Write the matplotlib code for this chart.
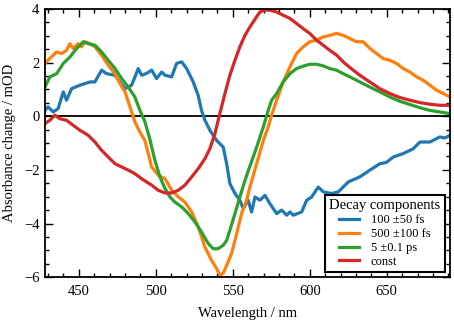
import numpy as np
import matplotlib
matplotlib.use("Agg")
import matplotlib.pyplot as plt
from matplotlib.ticker import MultipleLocator

plt.rcParams['font.family'] = ['Liberation Serif', 'DejaVu Serif']

# 100 +- 50 fs component
wl_blue = [428, 430, 433.4, 436.6, 439.9, 442, 445.3, 450.7, 457.2, 460.4, 464.8, 468, 473.5,
           476.7, 480, 484.3, 488.6, 490.8, 494, 497.3, 500.5, 503.8, 506, 510.3, 513.5, 516.8,
           520, 524.3, 527.5, 529.7, 531.9, 535.1, 539.5, 543.8, 546, 548.1, 551.4, 554.6,
           556.8, 560, 562.2, 564.4, 567.6, 570.9, 574.1, 578.5, 581.7, 585, 587.1, 589.3,
           594.7, 598, 601.2, 605.5, 608.8, 614.2, 618.5, 625, 632.5, 639, 645.5, 649.8,
           654.2, 660.7, 667.2, 671.5, 678, 684.5, 687.7, 691]
od_blue = [0.22, 0.35, 0.16, 0.29, 0.91, 0.6, 1.03, 1.16, 1.28, 1.28, 1.72, 1.59, 1.53,
           1.28, 1.03, 1.16, 1.78, 1.53, 1.6, 1.72, 1.41, 1.65, 1.53, 1.47, 1.97, 2.03,
           1.78, 1.28, 0.78, 0.22, -0.15, -0.52, -0.9, -1.15, -1.77, -2.51, -2.88, -3.13,
           -3.44, -3.13, -3.57, -3.01, -3.13, -2.95, -3.26, -3.63, -3.5, -3.69, -3.57, -3.69,
           -3.57, -3.13, -3.01, -2.64, -2.82, -2.88, -2.82, -2.45, -2.26, -2.01, -1.77, -1.72,
           -1.52, -1.39, -1.21, -0.96, -0.96, -0.77, -0.81, -0.71]

# 500 +- 100 fs component
wl_orange = [428, 431, 435.6, 438.8, 442, 444.2, 446.3, 449.6, 451.7, 454, 457.2, 460.5,
             464.8, 469.1, 473.5, 476.7, 480, 483.2, 486.4, 489.7, 492.9, 497.3, 501.6, 506,
             510.3, 514.6, 518.9, 523.3, 527.6, 531.9, 536.2, 539.5, 541.6, 543.8, 546,
             549.2, 552.5, 555.7, 559, 561.1, 565.5, 569.8, 573, 575.2, 578.5, 582.7, 587.1,
             591.4, 595.7, 600, 604.4, 608.7, 613, 617.4, 621.7, 626, 630.4, 634.7, 639,
             643.4, 647.7, 652, 656.4, 660.7, 665, 669.4, 673.7, 678, 682.4, 686.7, 691]
od_orange = [1.97, 2.15, 2.4, 2.34, 2.46, 2.71, 2.53, 2.71, 2.59, 2.78, 2.71, 2.59,
             2.28, 1.9, 1.59, 1.22, 0.91, 0.35, -0.21, -0.59, -0.9, -1.89, -2.2, -2.33,
             -2.76, -3.01, -3.2, -3.57, -4.13, -4.88, -5.37, -5.68, -5.93, -5.85, -5.56,
             -5.12, -4.38, -3.63, -3.13, -2.64, -1.77, -0.9, -0.4, 0.04, 0.6, 1.28, 1.84,
             2.34, 2.59, 2.78, 2.84, 2.96, 3.02, 3.09, 3.02, 2.9, 2.78, 2.78, 2.53,
             2.34, 2.15, 2.09, 1.97, 1.78, 1.65, 1.47, 1.34, 1.16, 0.97, 0.85, 0.72]

# 5 +- 0.1 ps component
wl_green = [428, 431.2, 435.6, 439.9, 444.2, 448.6, 452.9, 456.1, 460.5, 464.8, 469.1,
            473.5, 477.8, 482.1, 486.4, 489.7, 492.9, 496.2, 499.4, 502.7, 506, 509.2,
            512.4, 516.8, 521.1, 525.4, 529.7, 534.1, 537.3, 540.5, 543.8, 546, 548.1,
            551.4, 554.6, 557.9, 561.1, 565.5, 569.8, 573, 575.2, 578.5, 582.7, 587.1,
            591.4, 595.7, 600, 604.4, 608.7, 613, 617.4, 621.7, 626, 632.5, 639, 645.5,
            652, 658.5, 665, 671.5, 678, 684.5, 691]
od_green = [1.09, 1.47, 1.59, 1.97, 2.21, 2.53, 2.78, 2.71, 2.65, 2.4, 2.09,
            1.78, 1.41, 1.09, 0.72, 0.22, -0.2, -0.87, -1.64, -2.26, -2.7, -3.01,
            -3.2, -3.38, -3.63, -3.94, -4.32, -4.75, -4.94, -4.94, -4.81, -4.63, -4.25,
            -3.63, -3.01, -2.39, -1.86, -1.15, -0.4, 0.22, 0.6, 0.85, 1.28, 1.59,
            1.78, 1.87, 1.94, 1.94, 1.88, 1.78, 1.72, 1.59, 1.47, 1.28, 1.09, 0.91,
            0.72, 0.56, 0.44, 0.32, 0.22, 0.16, 0.1]

# constant component
wl_red = [428, 431.2, 434.5, 437.7, 442, 446.4, 450.7, 456.1, 460.5, 464.8, 469.1, 473.5,
          477.8, 482.1, 486.4, 490.8, 494, 497.3, 501.6, 506, 510.3, 514.6, 518.9, 523.3,
          527.6, 531.9, 535.1, 538.4, 540.5, 542.7, 544.9, 548.1, 551.4, 554.6, 557.9,
          561.1, 564.4, 567.6, 570.9, 574.1, 578.5, 582.7, 587.1, 591.4, 595.7, 600,
          604.4, 608.7, 613, 617.4, 621.7, 626, 632.5, 639, 645.5, 652, 658.5, 665,
          671.5, 678, 684.5, 691]
od_red = [-0.27, -0.15, 0.04, -0.09, -0.15, -0.34, -0.52, -0.71, -0.96, -1.27, -1.52, -1.77,
          -1.89, -2.01, -2.14, -2.33, -2.45, -2.57, -2.76, -2.86, -2.86, -2.76, -2.57, -2.26,
          -1.95, -1.58, -1.21, -0.65, -0.15, 0.35, 0.85, 1.53, 2.09, 2.59, 3.02,
          3.33, 3.62, 3.89, 3.96, 3.96, 3.89, 3.77, 3.65, 3.46, 3.27, 3.09,
          2.84, 2.65, 2.46, 2.28, 2.03, 1.82, 1.53, 1.28, 1.03, 0.85, 0.7, 0.6,
          0.51, 0.45, 0.41, 0.41]

labels = ['100 \u00b150 fs', '500 \u00b1100 fs', '5 \u00b10.1 ps', 'const']
colors = ['#1f77b4', '#ff7f0e', '#2ca02c', '#d62728']

fig = plt.figure(figsize=(4.54, 3.23), dpi=100)
ax = fig.add_axes([0.099, 0.142, 0.892, 0.830])

ax.axhline(0, color='black', lw=1.3, zorder=1)
series = [(wl_blue, od_blue), (wl_orange, od_orange), (wl_green, od_green), (wl_red, od_red)]
for (x, y), lab, c in zip(series, labels, colors):
    ax.plot(x, y, color=c, lw=2.3, label=lab)

ax.set_xlim(428, 691)
ax.set_ylim(-6, 4)
ax.xaxis.set_major_locator(MultipleLocator(50))
ax.xaxis.set_minor_locator(MultipleLocator(10))
ax.yaxis.set_major_locator(MultipleLocator(2))
ax.yaxis.set_minor_locator(MultipleLocator(0.5))
ax.tick_params(which='both', direction='in', top=True, right=True, labelsize=10.5, width=1)
ax.tick_params(which='major', length=6)
ax.tick_params(which='minor', length=3)
ax.tick_params(axis='x', which='major', pad=6)
ax.tick_params(axis='y', which='major', pad=4)
for s in ax.spines.values():
    s.set_linewidth(1.3)

ax.set_xlabel('Wavelength / nm', fontsize=10.5, labelpad=6)
ax.set_ylabel('Absorbance change / mOD', fontsize=10.5, labelpad=6)

leg = ax.legend(title='Decay components', loc='lower right', fontsize=9,
                title_fontsize=10.5, fancybox=False, framealpha=1, edgecolor='black',
                handlelength=1.6, handletextpad=0.9, borderaxespad=0.4,
                labelspacing=0.15, borderpad=0.35)
leg.get_frame().set_linewidth(1.5)

fig.savefig('out.png', dpi=100)
